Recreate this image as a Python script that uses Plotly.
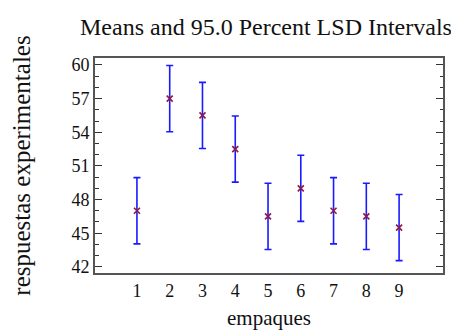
import plotly.graph_objects as go

categories = [1, 2, 3, 4, 5, 6, 7, 8, 9]
means = [47.0, 57.0, 55.5, 52.5, 46.5, 49.0, 47.0, 46.5, 45.5]
upper = [49.95, 59.95, 58.45, 55.45, 49.45, 51.95, 49.95, 49.45, 48.45]
lower = [44.05, 54.05, 52.55, 49.55, 43.55, 46.05, 44.05, 43.55, 42.55]
y_ticks = [42, 45, 48, 51, 54, 57, 60]

err_plus = [u - m for u, m in zip(upper, means)]
err_minus = [m - l for m, l in zip(means, lower)]

font = "Liberation Serif, Times New Roman, serif"

fig = go.Figure()
fig.add_trace(go.Scatter(
    x=categories, y=means, mode="markers",
    marker=dict(symbol="x-thin", size=6, color="#8b1a4a",
                line=dict(width=1.6, color="#8b1a4a")),
    error_y=dict(type="data", symmetric=False, array=err_plus, arrayminus=err_minus,
                 color="#1a1aff", thickness=1.6, width=3.5),
    showlegend=False,
))

fig.update_layout(
    width=451, height=323,
    margin=dict(l=87, r=16, t=50, b=57.5),
    paper_bgcolor="white", plot_bgcolor="white",
    font=dict(family=font, size=18, color="#111"),
    title=dict(text="Means and 95.0 Percent LSD Intervals", x=0.572, xanchor="center",
               y=0.941, yanchor="middle", font=dict(family=font, size=24, color="#111")),
    xaxis=dict(
        range=[-0.28, 10.34], tickvals=categories, ticktext=[str(c) for c in categories],
        ticks="", ticklen=0, showgrid=False, zeroline=False, automargin=False,
        showline=True, linecolor="#555", linewidth=2, mirror=True,
        title=dict(text="empaques", font=dict(family=font, size=21), standoff=11),
        tickfont=dict(family=font, size=18),
    ),
    yaxis=dict(
        range=[41.45, 60.62], tickvals=y_ticks, ticktext=[str(v) for v in y_ticks],
        ticks="inside", ticklen=7, tickwidth=1.2, tickcolor="#333",
        minor=dict(dtick=1, tick0=42, ticks="inside", ticklen=3.5, tickwidth=1.2, tickcolor="#333", showgrid=False),
        showgrid=False, zeroline=False, automargin=False,
        showline=True, linecolor="#555", linewidth=2, mirror="ticks",
        title=dict(text="respuestas experimentales", font=dict(family=font, size=25), standoff=42),
        tickfont=dict(family=font, size=18),
    ),
)

fig.write_html("out.html")
